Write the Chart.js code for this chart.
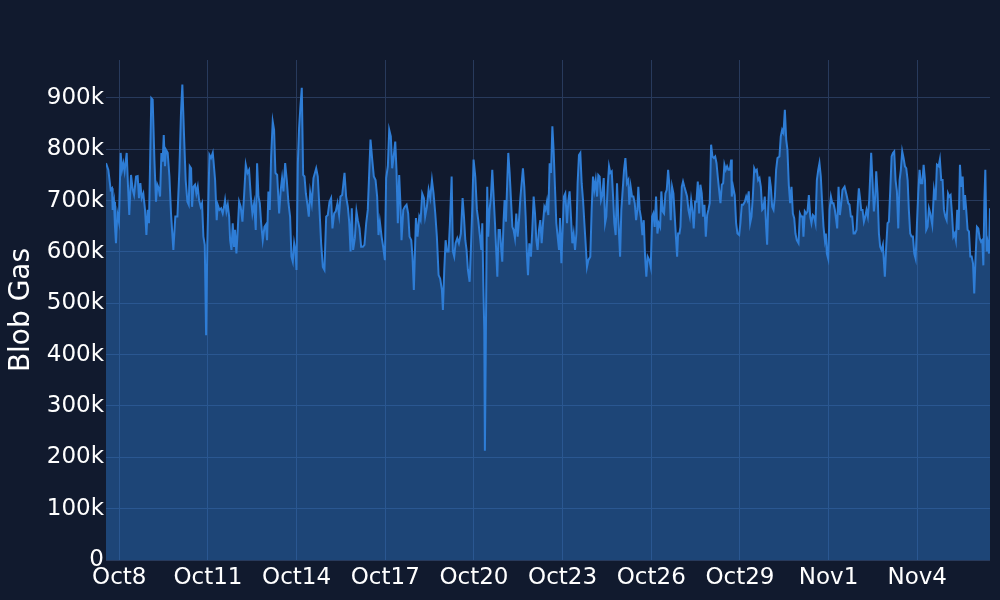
<!DOCTYPE html>
<html lang="en">
<head>
    <meta charset="UTF-8">
    <title>Blob Gas</title>
    <script src="https://cdn.jsdelivr.net/npm/chart.js"></script>
    <style>
        html, body {
            margin: 0;
            padding: 0;
            background: #111a2e;
        }
        #blobChart {
            display: block;
        }
    </style>
</head>
<body>
    <canvas id="blobChart" width="1000" height="600"></canvas>

    <script>
        // hours since Oct 8 00:00
        const hours = [
            // Oct 7 - Oct 11
            -10.8,-8.9,-7.0,-5.9,-5.4,-4.3,-3.5,-2.7,-1.6,-0.3,1.1,2.2,3.3,4.3,6.0,7.1,8.1,9.5,10.9,12.0,13.6,14.9,16.0,17.1,18.2,19.5,20.9,22.0,23.1,24.1,24.9,26.0,27.1,28.5,29.8,30.9,32.0,33.1,34.2,35.2,36.1,37.1,37.9,39.3,40.7,42.0,43.9,45.5,47.2,48.8,50.1,51.2,52.6,53.9,55.3,56.4,57.2,58.3,59.1,60.2,61.5,62.6,63.7,64.8,66.1,67.2,68.3,69.4,70.5,71.5,73.2,74.5,75.9,
            // Oct 11 - Oct 14
            76.4,77.8,79.1,79.9,81.3,82.7,84.0,85.1,85.9,87.0,88.1,89.2,90.0,91.1,92.1,93.2,94.0,95.1,96.2,97.3,98.6,100.0,101.3,102.7,104.1,105.4,106.8,108.1,109.5,110.8,111.9,113.0,114.1,115.2,116.5,117.9,119.0,120.0,121.1,122.2,123.3,124.6,125.7,126.8,128.2,129.8,131.1,132.2,133.3,134.7,136.0,137.4,138.7,139.8,140.9,142.0,143.1,143.9,145.0,146.0,147.1,148.2,149.3,150.4,151.5,152.8,153.9,
            // Oct 14 - Oct 18
            155.0,156.3,157.7,159.9,161.2,162.6,163.9,165.3,166.6,168.0,169.3,170.7,172.0,173.1,174.5,175.8,177.2,178.5,179.6,181.0,182.9,184.2,185.6,186.7,187.8,188.8,189.9,191.3,192.6,193.7,195.1,196.4,197.8,199.1,200.5,201.8,204.0,205.4,206.7,208.1,209.4,210.5,211.6,213.0,214.3,215.7,216.7,218.1,219.2,220.5,221.6,222.7,224.1,225.1,226.2,227.3,228.4,229.2,230.6,231.9,233.3,234.6,235.7,237.1,238.1,239.2,240.9,242.2,243.6,244.7,246.0,247.4,248.4,
            // Oct 18 - Oct 21
            249.8,251.2,252.5,253.9,255.2,256.6,257.9,259.3,260.6,262.0,262.8,263.9,265.0,266.1,267.4,268.5,269.9,270.9,272.0,273.1,274.5,275.8,277.4,278.8,279.9,281.0,282.0,283.1,284.5,285.6,286.6,287.7,289.1,290.4,291.5,292.9,294.0,294.8,295.6,296.4,296.9,297.7,298.3,298.8,299.6,300.7,301.8,302.9,304.0,305.1,306.1,307.0,308.0,309.1,310.2,311.0,312.1,312.9,314.0,315.1,315.9,317.0,318.1,319.2,320.2,321.3,322.4,323.5,324.6,325.7,
            // Oct 21 - Oct 25
            327.8,328.9,330.0,331.1,331.9,333.0,334.3,335.4,336.5,337.6,338.7,339.7,340.8,341.9,343.0,344.1,345.2,346.2,347.3,348.4,349.5,350.6,351.7,352.7,353.8,354.9,356.0,357.1,357.9,359.0,360.1,361.1,362.2,363.6,364.7,365.7,366.8,367.9,369.0,370.1,371.2,372.2,373.3,374.4,375.5,376.6,377.7,378.7,379.8,380.9,382.5,383.6,384.7,385.8,386.9,388.0,389.0,390.1,391.2,392.3,393.4,394.5,395.5,396.6,397.7,398.8,399.9,401.0,402.0,403.1,404.2,405.3,406.7,407.7,408.8,409.9,411.0,
            // Oct 25 - Oct 28
            412.3,413.4,414.2,415.3,416.4,417.5,418.6,419.7,420.7,421.5,422.6,423.7,424.8,425.9,427.0,428.0,429.1,430.5,431.6,432.7,433.7,434.8,435.9,437.0,438.1,439.2,440.2,441.3,442.4,443.5,444.6,445.7,446.7,447.8,448.9,450.0,451.1,452.2,453.0,453.8,454.9,455.7,456.8,457.8,458.9,460.0,461.1,462.2,463.3,464.4,465.4,466.5,467.6,468.7,469.8,470.9,471.9,473.0,474.1,475.2,476.3,477.4,478.4,479.5,480.6,481.7,482.8,483.9,485.0,486.0,487.1,488.2,489.3,490.4,491.4,492.5,493.6,494.7,495.8,496.9,
            // Oct 28 - Nov 1
            497.4,498.5,499.8,500.9,502.0,503.4,504.4,505.5,506.6,508.0,509.1,510.1,511.2,512.3,513.4,514.5,515.6,516.6,517.7,518.8,519.9,521.0,522.1,523.1,524.2,525.3,526.1,526.9,528.0,529.1,530.2,531.3,532.4,533.4,534.5,536.1,537.2,538.3,539.4,540.5,541.6,542.6,543.7,544.8,545.9,547.0,548.1,549.1,550.2,551.6,552.7,553.8,554.8,555.6,556.7,557.8,558.9,560.0,561.1,562.1,563.2,564.3,565.4,566.5,567.6,568.6,569.7,570.8,571.9,573.0,573.8,574.6,575.7,576.8,577.9,579.0,580.0,581.1,582.2,583.0,584.1,585.2,586.3,587.3,589.0,
            // Nov 1 - Nov 4
            590.9,592.0,593.0,594.1,595.2,596.3,597.4,598.7,599.8,600.6,601.4,602.5,603.6,604.7,605.8,606.8,607.9,609.0,610.6,611.7,612.8,613.9,614.7,615.8,616.9,617.9,619.0,620.1,621.7,622.8,623.9,625.0,626.1,627.2,628.3,629.3,630.4,631.5,632.6,633.7,634.7,635.8,636.9,638.0,639.1,640.2,641.2,642.3,643.4,644.5,645.6,646.7,647.8,648.8,649.9,651.0,652.1,653.2,654.3,655.3,656.4,657.5,658.6,
            // Nov 4 - Nov 6
            660.2,661.6,662.9,664.0,665.4,666.4,667.5,668.6,669.7,670.8,671.9,673.0,674.0,675.1,676.2,677.3,678.4,679.4,680.5,681.6,682.7,683.8,684.9,685.9,686.8,687.8,688.9,690.0,691.1,692.2,693.3,694.3,695.4,696.5,697.6,698.7,699.8,700.8,701.7,702.5,703.3,704.4,705.2,706.3,707.1
        ];

        // blob gas, in thousands
        const blobGasK = [
            773,760,721,724,682,698,649,617,675,659,793,760,773,757,793,727,672,750,721,711,747,748,705,734,705,714,682,633,682,656,760,900,897,780,698,731,724,708,793,776,828,767,799,793,747,675,604,669,669,760,871,926,825,740,698,692,767,763,688,727,731,714,727,701,688,695,630,614,438,617,789,783,793,
            780,740,662,692,682,685,675,688,701,679,692,669,623,604,656,610,643,597,643,698,688,659,708,770,754,760,708,675,695,643,773,708,695,656,623,649,653,623,718,682,786,854,838,754,750,675,721,744,718,773,740,695,669,591,581,617,601,565,773,841,884,920,750,747,714,692,669,
            716,695,744,763,747,682,617,571,565,669,672,698,705,646,675,679,695,672,708,711,754,708,688,659,601,685,604,627,679,662,646,610,610,614,656,682,819,780,747,740,708,633,659,630,610,584,744,767,838,825,763,783,815,760,656,750,688,623,682,688,692,675,630,623,591,526,666,630,669,662,714,705,669,
            688,721,705,740,714,675,630,555,548,526,487,565,623,601,601,656,747,601,591,617,627,617,636,705,669,623,604,565,542,610,682,780,747,682,662,630,604,656,539,448,213,434,617,727,630,682,708,760,708,656,601,552,643,643,604,581,662,701,659,740,793,754,701,649,643,627,675,630,662,705,
            763,727,669,591,555,617,591,643,708,675,623,604,643,662,617,656,688,682,698,672,773,754,845,799,727,656,630,604,666,578,649,708,714,656,701,718,669,617,636,604,636,734,789,793,734,701,656,617,571,584,591,682,747,721,740,708,750,747,701,711,744,656,669,727,767,754,757,708,656,633,734,662,591,682,721,760,783,
            734,740,692,727,708,708,695,662,682,727,682,666,633,662,591,552,591,584,571,669,675,649,708,636,656,649,718,679,675,714,721,760,731,662,727,714,669,623,591,636,636,649,727,737,727,718,708,682,669,701,682,646,698,698,737,675,731,714,669,692,630,672,682,695,809,786,783,786,773,747,721,695,731,734,770,760,767,760,760,780,
            708,727,711,656,636,633,656,692,692,698,708,701,718,656,669,708,763,757,760,740,744,727,682,685,708,649,614,682,747,727,688,682,708,760,783,786,825,838,832,877,819,799,731,695,727,675,666,636,623,617,675,669,669,630,679,675,679,711,669,656,672,669,656,740,760,773,747,695,649,623,636,597,587,682,708,695,695,682,662,646,727,672,695,721,727,
            708,695,692,669,669,636,636,643,695,724,708,682,682,659,669,682,669,701,793,737,679,708,757,714,636,610,604,614,552,610,656,659,721,786,793,796,740,718,646,740,760,796,783,767,763,740,682,636,630,630,597,587,656,714,760,734,734,770,740,643,649,685,675,
            653,721,701,770,767,780,740,740,682,669,662,714,708,711,675,630,636,623,682,643,770,727,747,682,711,682,643,640,591,591,578,519,591,649,646,627,620,623,574,695,760,601,617,597,685
        ];

        const tickHours = [0, 72, 144, 216, 288, 360, 432, 504, 576, 648];
        const tickLabels = ['Oct8', 'Oct11', 'Oct14', 'Oct17', 'Oct20', 'Oct23', 'Oct26', 'Oct29', 'Nov1', 'Nov4'];
        const yTicks = [0, 100000, 200000, 300000, 400000, 500000, 600000, 700000, 800000, 900000];
        const yMax = 974000;

        if (hours.length !== blobGasK.length) {
            throw new Error('length mismatch ' + hours.length + ' / ' + blobGasK.length);
        }

        const points = hours.map((h, i) => ({ x: h, y: blobGasK[i] * 1000 }));

        const gridColor = '#283a5c';
        const tickFont = { family: 'DejaVu Sans', size: 23 };

        new Chart(document.getElementById('blobChart'), {
            type: 'line',
            data: {
                datasets: [{
                    label: 'Blob Gas',
                    data: points,
                    borderColor: 'rgb(46, 125, 214)',
                    backgroundColor: 'rgba(46, 125, 214, 0.44)',
                    borderWidth: 2,
                    fill: 'origin',
                    pointRadius: 0,
                    tension: 0
                }]
            },
            options: {
                responsive: false,
                animation: false,
                layout: { padding: { top: 60, right: 10, left: 0, bottom: 0 } },
                plugins: {
                    legend: { display: false },
                    tooltip: { enabled: false }
                },
                scales: {
                    x: {
                        type: 'linear',
                        min: hours[0],
                        max: hours[hours.length - 1],
                        border: { display: false },
                        grid: { color: gridColor, drawTicks: false },
                        afterBuildTicks: (scale) => {
                            scale.ticks = tickHours.map(v => ({ value: v }));
                        },
                        afterFit: (scale) => { scale.height = 40; },
                        ticks: {
                            color: '#ffffff',
                            font: tickFont,
                            padding: 4,
                            maxRotation: 0,
                            autoSkip: false,
                            callback: (v, i) => tickLabels[i]
                        }
                    },
                    y: {
                        min: 0,
                        max: yMax,
                        border: { display: false },
                        grid: { color: gridColor, drawTicks: false },
                        afterBuildTicks: (scale) => {
                            scale.ticks = yTicks.map(v => ({ value: v }));
                        },
                        afterFit: (scale) => { scale.width = 106; },
                        title: {
                            display: true,
                            text: 'Blob Gas',
                            color: '#ffffff',
                            font: { family: 'DejaVu Sans', size: 28 },
                            padding: { top: 5, bottom: 0 }
                        },
                        ticks: {
                            color: '#ffffff',
                            font: tickFont,
                            padding: 2,
                            autoSkip: false,
                            callback: (v) => v === 0 ? '0' : (v / 1000) + 'k'
                        }
                    }
                }
            }
        });
    </script>
</body>
</html>
